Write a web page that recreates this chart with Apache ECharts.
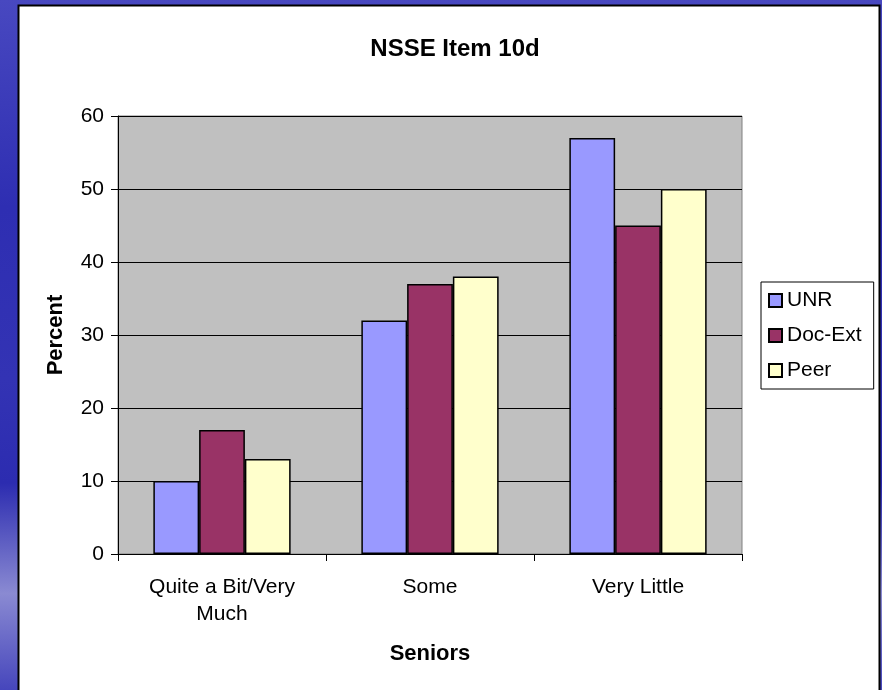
<!DOCTYPE html>
<html>
<head>
<meta charset="utf-8">
<script src="https://cdn.jsdelivr.net/npm/echarts@6/dist/echarts.min.js"></script>
<style>
html,body{margin:0;padding:0;background:#3333b3;}
#chart{width:882px;height:690px;}
</style>
</head>
<body>
<div id="chart"></div>
<script>
const categories = ['Quite a Bit/Very\nMuch', 'Some', 'Very Little'];
const seriesNames = ['UNR', 'Doc-Ext', 'Peer'];
const unrValues = [10, 32, 57];
const docExtValues = [17, 37, 45];
const peerValues = [13, 38, 50];
const yTicks = [0, 10, 20, 30, 40, 50, 60];
const colors = ['#9999FF', '#993366', '#FFFFCC'];

const FONT = '"Liberation Sans", Arial, sans-serif';
const chart = echarts.init(document.getElementById('chart'), null, {renderer: 'canvas'});

const valueSets = [unrValues, docExtValues, peerValues];

chart.setOption({
  animation: false,
  backgroundColor: {
    type: 'linear', x: 0, y: 0, x2: 0, y2: 1,
    colorStops: [
      {offset: 0, color: '#4848C0'},
      {offset: 0.3, color: '#2E2EB2'},
      {offset: 0.55, color: '#3333B4'},
      {offset: 0.7, color: '#2C2CB0'},
      {offset: 0.86, color: '#8A8AD2'},
      {offset: 1, color: '#4646BC'}
    ]
  },
  graphic: [{
    type: 'rect',
    z: -10,
    shape: {x: 18.5, y: 5.5, width: 861, height: 700},
    style: {fill: '#FFFFFF', stroke: '#000000', lineWidth: 2}
  }],
  title: {
    text: 'NSSE Item 10d',
    left: 450,
    textAlign: 'center',
    top: 32,
    textStyle: {fontFamily: FONT, fontWeight: 'bold', fontSize: 24, color: '#000'}
  },
  legend: {
    orient: 'vertical',
    left: 761,
    top: 282,
    padding: [8, 12, 8, 7],
    itemGap: 14,
    itemWidth: 13,
    itemHeight: 13,
    itemTextGap: 4,
    borderColor: '#000',
    borderWidth: 1,
    backgroundColor: '#fff',
    icon: 'rect',
    data: seriesNames,
    textStyle: {fontFamily: FONT, fontSize: 21, color: '#000'}
  },
  grid: {
    left: 118, right: 140, top: 116, bottom: 136,
    show: true,
    backgroundColor: '#C0C0C0',
    borderColor: '#808080',
    borderWidth: 1
  },
  xAxis: {
    type: 'category',
    data: categories,
    name: 'Seniors',
    nameLocation: 'middle',
    nameGap: 89,
    nameTextStyle: {fontFamily: FONT, fontWeight: 'bold', fontSize: 22, color: '#000'},
    axisLine: {lineStyle: {color: '#000', width: 1}},
    axisTick: {show: true, length: 7, lineStyle: {color: '#000'}},
    axisLabel: {fontFamily: FONT, fontSize: 21, color: '#000', margin: 20, lineHeight: 27}
  },
  yAxis: {
    type: 'value',
    min: 0,
    max: 60,
    interval: 10,
    name: 'Percent',
    nameLocation: 'middle',
    nameGap: 51,
    nameTextStyle: {fontFamily: FONT, fontWeight: 'bold', fontSize: 22, color: '#000'},
    axisLine: {show: true, lineStyle: {color: '#000', width: 1}},
    axisTick: {show: true, length: 7, lineStyle: {color: '#000'}},
    axisLabel: {fontFamily: FONT, fontSize: 21, color: '#000', margin: 14,
      formatter: v => yTicks.includes(v) ? String(v) : ''},
    splitLine: {show: true, lineStyle: {color: '#000', width: 1}}
  },
  series: seriesNames.map((name, i) => ({
    name: name,
    type: 'bar',
    data: valueSets[i],
    barGap: '0%',
    barCategoryGap: '34%',
    itemStyle: {color: colors[i], borderColor: '#000', borderWidth: 1.5}
  }))
});
</script>
</body>
</html>
